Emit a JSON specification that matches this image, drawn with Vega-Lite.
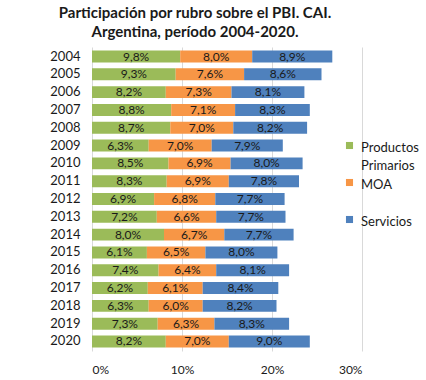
{
  "$schema": "https://vega.github.io/schema/vega-lite/v6.json",
  "width": 270,
  "height": 304,
  "autosize": {"type": "none"},
  "padding": {"left": 92, "top": 47, "right": 64, "bottom": 29},
  "background": "white",
  "config": {
    "view": {"stroke": null},
    "font": "Lato",
    "locale": {"number": {"decimal": ",", "thousands": ".", "grouping": [3], "currency": ["$", ""]}}
  },
  "title": {
    "text": ["Participación por rubro sobre el PBI. CAI.", "Argentina, período 2004-2020."],
    "font": "Lato",
    "fontSize": 15,
    "fontWeight": "bold",
    "color": "#1a1a1a",
    "anchor": "middle",
    "dx": -32,
    "lineHeight": 19,
    "offset": 7
  },
  "data": {
    "values": [
      {"year": "2004", "rubro": "Productos Primarios", "k": 1, "v": 0.098},
      {"year": "2004", "rubro": "MOA", "k": 2, "v": 0.080},
      {"year": "2004", "rubro": "Servicios", "k": 3, "v": 0.089},
      {"year": "2005", "rubro": "Productos Primarios", "k": 1, "v": 0.093},
      {"year": "2005", "rubro": "MOA", "k": 2, "v": 0.076},
      {"year": "2005", "rubro": "Servicios", "k": 3, "v": 0.086},
      {"year": "2006", "rubro": "Productos Primarios", "k": 1, "v": 0.082},
      {"year": "2006", "rubro": "MOA", "k": 2, "v": 0.073},
      {"year": "2006", "rubro": "Servicios", "k": 3, "v": 0.081},
      {"year": "2007", "rubro": "Productos Primarios", "k": 1, "v": 0.088},
      {"year": "2007", "rubro": "MOA", "k": 2, "v": 0.071},
      {"year": "2007", "rubro": "Servicios", "k": 3, "v": 0.083},
      {"year": "2008", "rubro": "Productos Primarios", "k": 1, "v": 0.087},
      {"year": "2008", "rubro": "MOA", "k": 2, "v": 0.070},
      {"year": "2008", "rubro": "Servicios", "k": 3, "v": 0.082},
      {"year": "2009", "rubro": "Productos Primarios", "k": 1, "v": 0.063},
      {"year": "2009", "rubro": "MOA", "k": 2, "v": 0.070},
      {"year": "2009", "rubro": "Servicios", "k": 3, "v": 0.079},
      {"year": "2010", "rubro": "Productos Primarios", "k": 1, "v": 0.085},
      {"year": "2010", "rubro": "MOA", "k": 2, "v": 0.069},
      {"year": "2010", "rubro": "Servicios", "k": 3, "v": 0.080},
      {"year": "2011", "rubro": "Productos Primarios", "k": 1, "v": 0.083},
      {"year": "2011", "rubro": "MOA", "k": 2, "v": 0.069},
      {"year": "2011", "rubro": "Servicios", "k": 3, "v": 0.078},
      {"year": "2012", "rubro": "Productos Primarios", "k": 1, "v": 0.069},
      {"year": "2012", "rubro": "MOA", "k": 2, "v": 0.068},
      {"year": "2012", "rubro": "Servicios", "k": 3, "v": 0.077},
      {"year": "2013", "rubro": "Productos Primarios", "k": 1, "v": 0.072},
      {"year": "2013", "rubro": "MOA", "k": 2, "v": 0.066},
      {"year": "2013", "rubro": "Servicios", "k": 3, "v": 0.077},
      {"year": "2014", "rubro": "Productos Primarios", "k": 1, "v": 0.080},
      {"year": "2014", "rubro": "MOA", "k": 2, "v": 0.067},
      {"year": "2014", "rubro": "Servicios", "k": 3, "v": 0.077},
      {"year": "2015", "rubro": "Productos Primarios", "k": 1, "v": 0.061},
      {"year": "2015", "rubro": "MOA", "k": 2, "v": 0.065},
      {"year": "2015", "rubro": "Servicios", "k": 3, "v": 0.080},
      {"year": "2016", "rubro": "Productos Primarios", "k": 1, "v": 0.074},
      {"year": "2016", "rubro": "MOA", "k": 2, "v": 0.064},
      {"year": "2016", "rubro": "Servicios", "k": 3, "v": 0.081},
      {"year": "2017", "rubro": "Productos Primarios", "k": 1, "v": 0.062},
      {"year": "2017", "rubro": "MOA", "k": 2, "v": 0.061},
      {"year": "2017", "rubro": "Servicios", "k": 3, "v": 0.084},
      {"year": "2018", "rubro": "Productos Primarios", "k": 1, "v": 0.063},
      {"year": "2018", "rubro": "MOA", "k": 2, "v": 0.060},
      {"year": "2018", "rubro": "Servicios", "k": 3, "v": 0.082},
      {"year": "2019", "rubro": "Productos Primarios", "k": 1, "v": 0.073},
      {"year": "2019", "rubro": "MOA", "k": 2, "v": 0.063},
      {"year": "2019", "rubro": "Servicios", "k": 3, "v": 0.083},
      {"year": "2020", "rubro": "Productos Primarios", "k": 1, "v": 0.082},
      {"year": "2020", "rubro": "MOA", "k": 2, "v": 0.070},
      {"year": "2020", "rubro": "Servicios", "k": 3, "v": 0.090}
    ]
  },
  "transform": [
    {"stack": "v", "groupby": ["year"], "sort": [{"field": "k", "order": "ascending"}], "as": ["v0", "v1"]},
    {"calculate": "(datum.v0 + datum.v1) / 2", "as": "mid"}
  ],
  "encoding": {
    "y": {
      "field": "year",
      "type": "ordinal",
      "scale": {"paddingInner": 0.33, "paddingOuter": 0.2},
      "axis": {
        "title": null,
        "ticks": false,
        "domain": false,
        "labelFont": "Lato",
        "labelFontSize": 13,
        "labelColor": "#1a1a1a",
        "labelPadding": 12
      }
    }
  },
  "layer": [
    {
      "mark": {"type": "bar"},
      "encoding": {
        "x": {
          "field": "v0",
          "type": "quantitative",
          "scale": {"domain": [0, 0.3]},
          "axis": {
            "title": null,
            "values": [0, 0.1, 0.2, 0.3],
            "format": ".0%",
            "grid": true,
            "gridColor": "#d9d9d9",
            "ticks": false,
            "domain": false,
            "labelFont": "Lato",
            "labelFontSize": 12,
            "labelColor": "#1a1a1a",
            "labelPadding": 13
          }
        },
        "x2": {"field": "v1"},
        "color": {
          "field": "rubro",
          "type": "nominal",
          "scale": {
            "domain": ["Productos Primarios", "MOA", "Servicios"],
            "range": ["#9bbb59", "#f79646", "#4f81bd"]
          },
          "legend": {
            "title": null,
            "orient": "none",
            "legendX": 251,
            "legendY": 92,
            "symbolType": "square",
            "symbolSize": 50,
            "symbolStrokeWidth": 0,
            "labelFont": "Lato",
            "labelFontSize": 13,
            "labelColor": "#1a1a1a",
            "labelOffset": 5,
            "labelBaseline": "top",
            "gridAlign": "all",
            "rowPadding": 3,
            "labelExpr": "datum.label == 'Productos Primarios' ? ['Productos', 'Primarios'] : datum.label",
            "encode": {
              "labels": {"update": {"lineHeight": {"value": 18}, "dy": {"value": -4}}}
            }
          }
        }
      }
    },
    {
      "mark": {"type": "text", "font": "Lato", "fontSize": 12, "color": "#1a1a1a"},
      "encoding": {
        "x": {"field": "mid", "type": "quantitative"},
        "text": {"field": "v", "type": "quantitative", "format": ".1%"}
      }
    }
  ]
}
